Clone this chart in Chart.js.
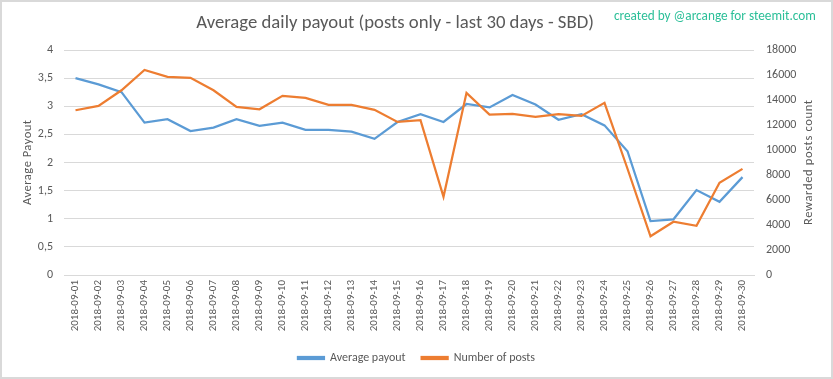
<!DOCTYPE html>
<html><head><meta charset="utf-8">
<script src="https://cdn.jsdelivr.net/npm/chart.js@4.4.1/dist/chart.umd.min.js"></script>
<style>
html,body{margin:0;padding:0;background:#fff;}
#wrap{position:relative;width:833px;height:379px;overflow:hidden;}
#c{position:absolute;left:0;top:0;}
#frame{position:absolute;left:0;top:0;width:833px;height:379px;box-sizing:border-box;border:2px solid #d9d9d9;pointer-events:none;}
</style></head><body>
<div id="wrap"><canvas id="c" width="833" height="379"></canvas><div id="frame"></div></div>
<script>
const categories = ["2018-09-01","2018-09-02","2018-09-03","2018-09-04","2018-09-05","2018-09-06","2018-09-07","2018-09-08","2018-09-09","2018-09-10","2018-09-11","2018-09-12","2018-09-13","2018-09-14","2018-09-15","2018-09-16","2018-09-17","2018-09-18","2018-09-19","2018-09-20","2018-09-21","2018-09-22","2018-09-23","2018-09-24","2018-09-25","2018-09-26","2018-09-27","2018-09-28","2018-09-29","2018-09-30"];
const averagePayout = [3.50,3.39,3.25,2.71,2.77,2.56,2.62,2.77,2.65,2.71,2.58,2.58,2.55,2.42,2.72,2.86,2.72,3.04,2.98,3.20,3.03,2.76,2.86,2.66,2.20,0.96,0.99,1.51,1.30,1.74];
const numberOfPosts = [13180,13530,14780,16400,15850,15770,14780,13450,13260,14330,14170,13610,13610,13210,12250,12380,6260,14570,12840,12890,12650,12860,12730,13770,8500,3100,4260,3940,7380,8490];
const leftTicks = [0,0.5,1,1.5,2,2.5,3,3.5,4];
const rightTicks = [0,2000,4000,6000,8000,10000,12000,14000,16000,18000];
const titleText = "Average daily payout (posts only - last 30 days - SBD)";
const watermarkText = "created by @arcange for steemit.com";
const leftAxisTitle = "Average Payout";
const rightAxisTitle = "Rewarded posts count";
const seriesNames = ["Average payout","Number of posts"];

const FONT = "'Carlito','Open Sans',sans-serif";
const GREY = '#595959';

const textPlugin = {
  id: 'texts',
  afterDraw(chart) {
    const ctx = chart.ctx;
    ctx.save();
    function fitText(txt, targetW, weight) {
      ctx.font = weight + ' 20px ' + FONT;
      const w = ctx.measureText(txt).width;
      return 20 * targetW / w;
    }
    let s = fitText(titleText, 398, '300');
    ctx.font = '300 ' + s + 'px ' + FONT;
    ctx.fillStyle = GREY;
    ctx.textAlign = 'center';
    ctx.textBaseline = 'middle';
    ctx.fillText(titleText, 395, 23);
    s = fitText(watermarkText, 202, 'normal');
    ctx.font = 'normal ' + s + 'px ' + FONT;
    ctx.fillStyle = '#2bbf98';
    ctx.textAlign = 'left';
    ctx.fillText(watermarkText, 614, 17);
    const ca = chart.chartArea;
    const cy = (ca.top + ca.bottom) / 2;
    function spacedVertical(txt, x, targetLen) {
      ctx.save();
      ctx.font = 'normal 12.5px ' + FONT;
      ctx.letterSpacing = '0px';
      const w = ctx.measureText(txt).width;
      const sp = Math.max(0, (targetLen - w) / (txt.length - 1));
      ctx.letterSpacing = sp + 'px';
      ctx.translate(x, cy);
      ctx.rotate(-Math.PI / 2);
      ctx.fillStyle = GREY;
      ctx.textAlign = 'center';
      ctx.textBaseline = 'middle';
      ctx.fillText(txt, sp / 2, 0);
      ctx.restore();
    }
    spacedVertical(leftAxisTitle, 28, 85);
    spacedVertical(rightAxisTitle, 809, 125);
    ctx.restore();
  }
};

new Chart(document.getElementById('c'), {
  type: 'line',
  data: {
    labels: categories,
    datasets: [
      {label: seriesNames[0], data: averagePayout, yAxisID: 'y', borderColor: '#5b9bd5', backgroundColor: '#5b9bd5', borderWidth: 2.25, pointRadius: 0, tension: 0, order: 1},
      {label: seriesNames[1], data: numberOfPosts, yAxisID: 'y1', borderColor: '#ed7d31', backgroundColor: '#ed7d31', borderWidth: 2.25, pointRadius: 0, tension: 0, order: 0}
    ]
  },
  options: {
    responsive: false,
    animation: false,
    layout: {padding: {top: 50, left: 0, right: 0, bottom: 5}},
    plugins: {
      title: {display: false},
      tooltip: {enabled: false},
      legend: {
        position: 'bottom',
        labels: {
          boxWidth: 26, boxHeight: 2, padding: 16, color: GREY,
          font: {family: FONT, size: 12},
          sort: (a, b) => a.datasetIndex - b.datasetIndex
        }
      }
    },
    scales: {
      x: {
        offset: true,
        grid: {display: false, drawTicks: false},
        border: {display: true, color: '#d9d9d9'},
        ticks: {minRotation: 90, maxRotation: 90, autoSkip: false, color: GREY, font: {family: FONT, size: 11}, padding: 5},
        afterFit: s => { s.height = 61; }
      },
      y: {
        position: 'left', min: 0, max: 4,
        afterBuildTicks: s => { s.ticks = leftTicks.map(v => ({value: v})); },
        grid: {color: '#d9d9d9', drawTicks: false},
        border: {display: false},
        ticks: {color: GREY, font: {family: FONT, size: 12}, padding: 11, callback: v => String(v).replace('.', ',')},
        title: {display: false},
        afterFit: s => { s.width = 64; }
      },
      y1: {
        position: 'right', min: 0, max: 18000,
        afterBuildTicks: s => { s.ticks = rightTicks.map(v => ({value: v})); },
        grid: {display: false, drawTicks: false},
        border: {display: false},
        ticks: {color: GREY, font: {family: FONT, size: 12}, padding: 12, callback: v => String(v)},
        afterFit: s => { s.width = 79; }
      }
    }
  },
  plugins: [textPlugin]
});
</script>
</body></html>
